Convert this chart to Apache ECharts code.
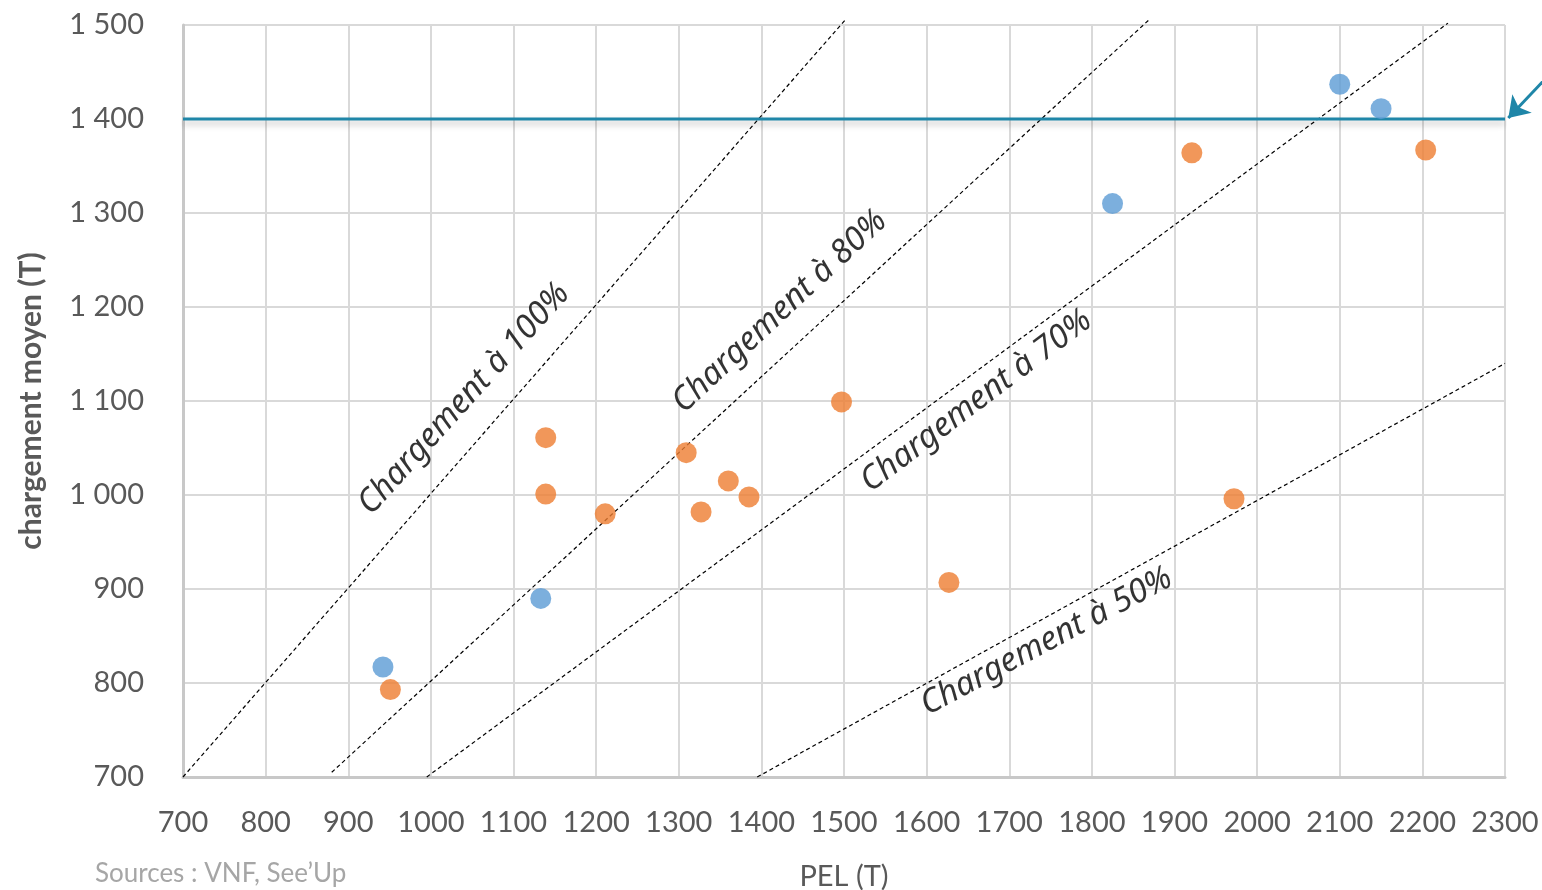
<!DOCTYPE html>
<html>
<head>
<meta charset="utf-8">
<script src="https://cdn.jsdelivr.net/npm/echarts@6/dist/echarts.min.js"></script>
<style>
html,body{margin:0;padding:0;background:#fff;}
#c{width:1542px;height:890px;}
</style>
</head>
<body>
<div id="c"></div>
<script>
// Data
var bluePoints = [[942, 817], [1133, 890], [1825, 1310], [2100, 1437], [2150, 1411]];
var orangePoints = [[951, 793], [1139, 1061], [1139, 1001], [1211, 980], [1309, 1045],
  [1327, 982], [1360, 1015], [1385, 998], [1497, 1099], [1627, 907], [1921, 1364],
  [1972, 996], [2204, 1367]];
var line100 = [[700, 700], [1503, 1507]];
var line80 = [[880, 705], [1871, 1507]];
var line70 = [[995, 700], [2231, 1502]];
var line50 = [[1395, 700], [2300, 1140]];
var thresholdLine = [[700, 1400], [2300, 1400]];
var arrowCoords = [[2362, 1455], [2304, 1401]];
var annotTexts = ['Chargement à 100%', 'Chargement à 80%', 'Chargement à 70%', 'Chargement à 50%'];
var annotPos = [[1040, 1102], [1422, 1195], [1660, 1100], [1745, 844]];
var annotAngle = [48, 43, 37, 28];
var xTicks = {min: 700, max: 2300, step: 100};
var yTicks = {min: 700, max: 1500, step: 100};

var chart = echarts.init(document.getElementById('c'));
var axisFont = 'Lato, "Open Sans", sans-serif';
function dashed(d) {
  return {type: 'line', data: d, symbol: 'none', clip: false, silent: true,
    lineStyle: {color: '#000', width: 1.2, type: [4, 3]}, z: 3};
}
var option = {
  backgroundColor: '#fff',
  animation: false,
  grid: {left: 183, right: 37, top: 25, bottom: 113, containLabel: false, outerBoundsMode: 'none'},
  xAxis: {
    type: 'value', min: xTicks.min, max: xTicks.max, interval: xTicks.step,
    name: 'PEL (T)', nameLocation: 'middle', nameGap: 85,
    nameTextStyle: {color: '#595959', fontSize: 29, fontFamily: axisFont},
    axisLine: {show: true, lineStyle: {color: '#c8c8c8', width: 3}},
    axisTick: {show: false},
    axisLabel: {color: '#595959', fontSize: 29, fontFamily: axisFont, margin: 31,
      formatter: function (v) { return String(v); }},
    splitLine: {show: true, lineStyle: {color: '#d9d9d9', width: 2}}
  },
  yAxis: {
    type: 'value', min: yTicks.min, max: yTicks.max, interval: yTicks.step,
    name: 'chargement moyen (T)', nameLocation: 'middle', nameGap: 137,
    nameTextStyle: {color: '#595959', fontSize: 30, fontWeight: 'bold', fontFamily: axisFont},
    axisLine: {show: true, lineStyle: {color: '#c8c8c8', width: 3}},
    axisTick: {show: false},
    axisLabel: {color: '#595959', fontSize: 29, fontFamily: axisFont, margin: 39,
      formatter: function (v) { return String(v).replace(/\B(?=(\d{3})+(?!\d))/g, ' '); }},
    splitLine: {show: true, lineStyle: {color: '#d9d9d9', width: 2}}
  },
  graphic: [{
    type: 'text', left: 95, top: 861,
    style: {text: 'Sources : VNF, See\u2019Up', fill: '#a6a6a6', fontSize: 26, fontFamily: axisFont}
  }],
  series: [
    dashed(line100), dashed(line80), dashed(line70), dashed(line50),
    {type: 'line', data: thresholdLine, symbol: 'none', clip: false, silent: true, z: 4,
      lineStyle: {color: '#1f86a8', width: 3, shadowColor: 'rgba(0,0,0,0.25)', shadowBlur: 6, shadowOffsetY: 4}},
    {type: 'lines', coordinateSystem: 'cartesian2d', clip: false, silent: true, z: 4,
      symbol: ['none', 'arrow'], symbolSize: [0, 20],
      lineStyle: {color: '#1f86a8', width: 3, opacity: 1, curveness: 0},
      data: [{coords: arrowCoords}]},
    {type: 'scatter', data: orangePoints, symbolSize: 21, z: 5,
      itemStyle: {color: '#ed7d31'}},
    {type: 'scatter', data: bluePoints, symbolSize: 21, z: 5,
      itemStyle: {color: '#5b9bd5'}},
    {type: 'scatter', symbolSize: 0, silent: true, z: 6, clip: false,
      data: annotPos.map(function (p, i) {
        return {value: p, label: {rotate: annotAngle[i], formatter: annotTexts[i]}};
      }),
      label: {show: true, position: 'inside', color: '#000', fontSize: 33,
        fontStyle: 'italic', fontFamily: '"Noto Sans", "Open Sans", sans-serif'}}
  ]
};
chart.setOption(option);
</script>
</body>
</html>
